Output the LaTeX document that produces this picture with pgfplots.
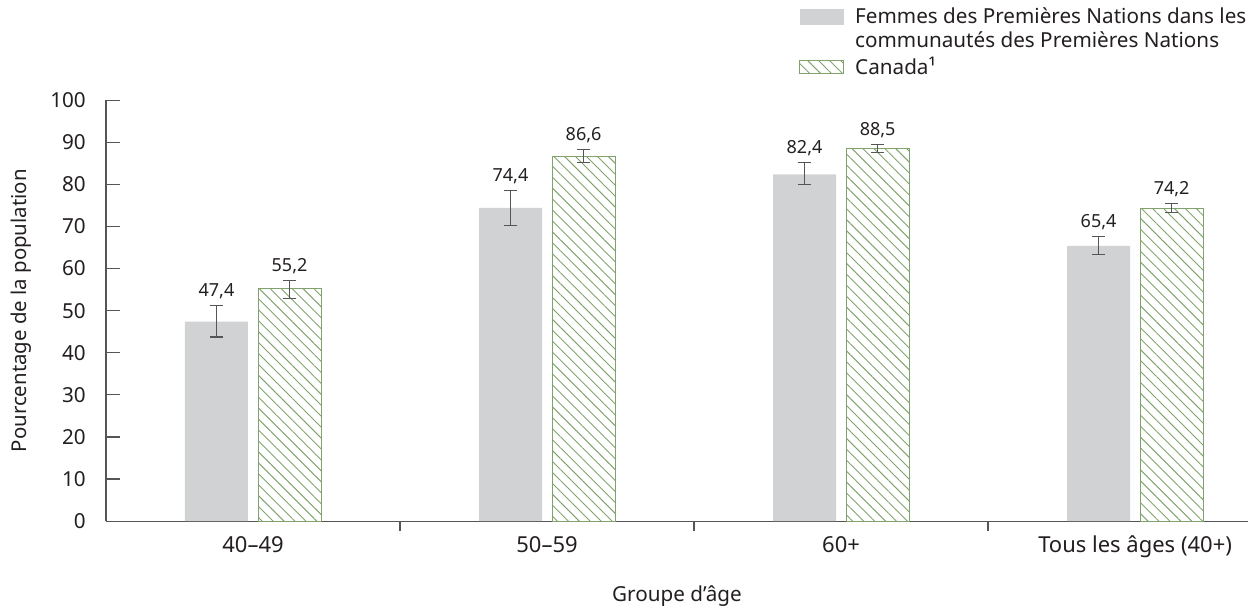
\documentclass[border=0pt]{standalone}
\usepackage{pgfplots}
\pgfplotsset{compat=1.18}
\usepackage{pgfplotstable}
\usepackage{fontspec}
\setmainfont{Noto Sans}
\usetikzlibrary{patterns.meta}

\definecolor{barGray}{RGB}{209,210,212}
\definecolor{hatchGreen}{RGB}{128,163,110}
\definecolor{axisGray}{RGB}{85,85,85}
\definecolor{textDark}{RGB}{35,31,32}

% x, value, upper and lower half-widths of the confidence interval
\pgfplotstableread{
x y ep em
0 47.4 3.9 3.65
1 74.4 4.1 4.1
2 82.4 2.75 2.5
3 65.4 2.2 2.1
}\firstnations
\pgfplotstableread{
x y ep em
0 55.2 2.0 2.25
1 86.6 1.6 1.45
2 88.5 1.0 0.9
3 74.2 1.2 0.8
}\canada

\begin{document}
\begin{tikzpicture}[font=\fontsize{13.5}{17.5}\selectfont, text=textDark]
\path[use as bounding box] (0,0) rectangle (936pt,456.75pt);
\begin{axis}[
  at={(79.5pt,65.85pt)}, anchor=south west,
  scale only axis, width=856.5pt, height=315.75pt,
  xmin=-0.5, xmax=3.384, ymin=0, ymax=100,
  clip=false,
  axis x line*=bottom, axis y line*=left,
  axis line style={draw=axisGray, line width=1pt, -},
  /pgf/number format/assume math mode=true,
  ytick={0,10,...,100},
  major tick length=10.5pt,
  tick align=inside,
  ytick style={draw=axisGray, line width=0.9pt},
  yticklabel style={anchor=east, inner sep=0pt, xshift=-15pt, font=\fontsize{15.5}{18}\selectfont},
  xtick={0,1,2,3},
  xticklabels={40–49,50–59,60+,Tous les âges (40+)},
  major x tick style={draw=none},
  minor xtick={0.5,1.5,2.5},
  minor tick length=7.5pt,
  minor x tick style={draw=axisGray, line width=0.9pt},
  xticklabel style={anchor=north, inner sep=0pt, yshift=-0.5pt, font=\fontsize{16.5}{20}\selectfont},
  xlabel={Groupe d’âge},
  xlabel style={at={(rel axis cs:0.5,0)}, anchor=base, yshift=-60.5pt, font=\fontsize{15.5}{18}\selectfont},
  ylabel={Pourcentage de la population},
  ylabel style={at={([xshift=-59.6pt]rel axis cs:0,0.5)}, anchor=base, font=\fontsize{15.3}{18}\selectfont},
  ybar, bar width=47.25pt,
  nodes near coords={\pgfmathprintnumber[fixed,fixed zerofill,precision=1,use comma,assume math mode=true]{\pgfplotspointmeta}},
  visualization depends on={\thisrow{ep} \as \errplus},
  every node near coord/.append style={anchor=base, inner sep=0pt, yshift=6.75pt+\errplus*3.158pt, text=textDark},
  error bars/y dir=both,
  error bars/y explicit,
  error bars/error bar style={draw=axisGray, line width=0.9pt},
  error bars/error mark options={rotate=90, mark size=5.1pt, draw=axisGray, line width=0.9pt},
  legend style={at={(rel axis cs:0.6068,1.2205)}, anchor=north west, draw=none, fill=none,
    inner sep=0pt, row sep=23.5pt, column sep=8.25pt,
    font=\fontsize{15.5}{17.5}\selectfont,
    nodes={inner sep=0pt, text=textDark}},
  legend cell align=left,
]
\addplot[fill=barGray, draw=none, bar shift=-27.4pt,
  legend image code/.code={\fill[barGray] (0pt,-6pt) rectangle (33pt,6pt);}]
  table[x=x, y=y, y error plus=ep, y error minus=em]{\firstnations};
\addlegendentry{\begin{tabular}[t]{@{}l@{}}Femmes des Premières Nations dans les\\communautés des Premières Nations\end{tabular}}
\addplot[draw=hatchGreen, line width=0.8pt, bar shift=27.4pt,
  pattern={Lines[angle=-45,distance=5.8pt,line width=0.7pt]}, pattern color=hatchGreen,
  legend image code/.code={\draw[hatchGreen, line width=0.75pt, pattern={Lines[angle=-45,distance=5.8pt,line width=0.7pt]}, pattern color=hatchGreen] (0pt,-4.8pt) rectangle (33pt,4.8pt);}]
  table[x=x, y=y, y error plus=ep, y error minus=em]{\canada};
\addlegendentry{Canada¹}
\end{axis}
\end{tikzpicture}
\end{document}
